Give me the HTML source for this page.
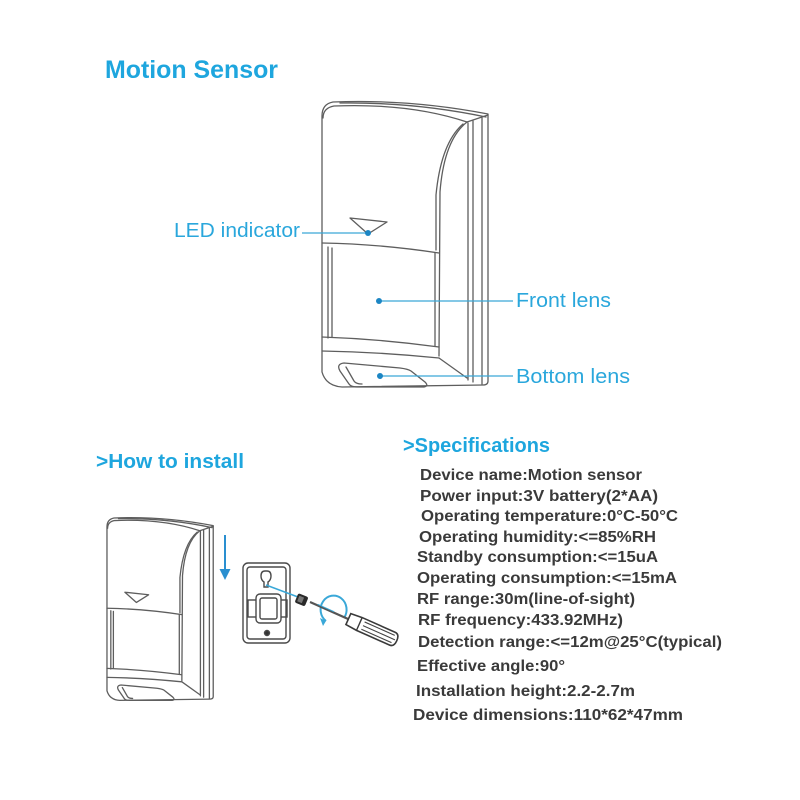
<!DOCTYPE html>
<html><head><meta charset="utf-8"><style>
html,body{margin:0;padding:0;background:#fff;}
svg{display:block;}
text{font-family:"Liberation Sans",sans-serif;}
</style></head><body>
<svg width="800" height="800" viewBox="0 0 800 800" xmlns="http://www.w3.org/2000/svg">
<defs>
<g id="dev" fill="none" stroke="#5e5e5e" stroke-width="1.3" stroke-linejoin="round" stroke-linecap="round">
  <path vector-effect="non-scaling-stroke" fill="#fff" d="M322,116 Q322,104 333,102 Q410,99 488,114 L488,381 Q488,385 483,385 L342,387 Q326,386 322,372 Z"/>
  <path vector-effect="non-scaling-stroke" d="M323,118 Q323,108 334,106 Q410,103 467,122"/>
  <path vector-effect="non-scaling-stroke" d="M340,103 Q415,102 486,117"/>
  <path vector-effect="non-scaling-stroke" d="M467,122 L488,115"/>
  <path vector-effect="non-scaling-stroke" d="M467,122 Q444,140 440,192 L439,356"/>
  <path vector-effect="non-scaling-stroke" d="M463,124 Q441,143 436,195 L436,250"/>
  <path vector-effect="non-scaling-stroke" d="M468,123 L468,380 M473,121 L473,382 M482,118 L482,384"/>
  <path vector-effect="non-scaling-stroke" d="M350,218 L387,222 L368,234 Z"/>
  <path vector-effect="non-scaling-stroke" d="M322,243 Q380,244 439,253"/>
  <path vector-effect="non-scaling-stroke" d="M328,247 L328,338 M332,248 L332,337 M435,253 L435,346"/>
  <path vector-effect="non-scaling-stroke" d="M322,337 Q380,339 439,347"/>
  <path vector-effect="non-scaling-stroke" d="M322,351 Q380,352 439,358"/>
  <path vector-effect="non-scaling-stroke" d="M439,358 L467,378"/>
  <path vector-effect="non-scaling-stroke" d="M344,363 Q336,364 340,371 L349,384 Q351,387 357,387 L424,387 Q429,386 425,382 L411,371 Q408,369 400,368 Z"/>
  <path vector-effect="non-scaling-stroke" d="M346,367 L354,381 Q356,384 362,384"/>
</g>
</defs>

<text x="105" y="78" font-size="25" font-weight="bold" fill="#1ea6de" textLength="173" lengthAdjust="spacingAndGlyphs">Motion Sensor</text>

<use href="#dev"/>

<g stroke="#3aa8d8" stroke-width="1.3">
  <line x1="302" y1="233" x2="368" y2="233"/>
  <line x1="379" y1="301" x2="513" y2="301"/>
  <line x1="380" y1="376" x2="513" y2="376"/>
</g>
<g fill="#1c86c4">
  <circle cx="368" cy="233" r="3"/>
  <circle cx="379" cy="301" r="3"/>
  <circle cx="380" cy="376" r="3"/>
</g>
<text x="174" y="237" font-size="20" fill="#2aa7dc" textLength="126" lengthAdjust="spacingAndGlyphs">LED indicator</text>
<text x="516" y="307" font-size="20" fill="#2aa7dc" textLength="95" lengthAdjust="spacingAndGlyphs">Front lens</text>
<text x="516" y="383" font-size="20" fill="#2aa7dc" textLength="114" lengthAdjust="spacingAndGlyphs">Bottom lens</text>

<text x="96" y="468" font-size="20" font-weight="bold" fill="#1ea6de" textLength="148" lengthAdjust="spacingAndGlyphs">&gt;How to install</text>

<use href="#dev" transform="translate(-99.1,452.7) scale(0.64)"/>

<line x1="225" y1="535" x2="225" y2="571" stroke="#2a8fd0" stroke-width="2"/>
<polygon points="219.5,569 230.5,569 225,580" fill="#2a8fd0"/>

<g fill="none" stroke="#4a4a4a" stroke-width="1.4">
  <rect x="243" y="563" width="47" height="80" rx="5" fill="#fff"/>
  <rect x="247" y="567" width="39" height="72" rx="3"/>
  <path d="M265,571 Q261,571 261,576 Q261,580 264,582 L264,587 L268,587 L268,582 Q271,580 271,576 Q271,571 267,571 Z"/>
  <rect x="248" y="600" width="39" height="17"/>
  <rect x="256" y="594" width="25" height="29" rx="4" fill="#fff"/>
  <rect x="260" y="598" width="17" height="21" rx="2"/>
  <circle cx="267" cy="633" r="2.5" fill="#333"/>
</g>

<line x1="266" y1="585" x2="298" y2="597" stroke="#3aa8d8" stroke-width="1.5"/>

<g transform="rotate(22 302 600)">
  <rect x="296" y="595" width="11" height="10" rx="2" fill="#2a2a2a"/>
  <rect x="298" y="597" width="5" height="6" fill="#777"/>
</g>

<path d="M326,621 A13,14 0 1 1 344,618" fill="none" stroke="#3aa8d8" stroke-width="2"/>

<g transform="rotate(24 310 602)">
  <line x1="310" y1="602" x2="352" y2="602" stroke="#555" stroke-width="2.2"/>
  <line x1="318" y1="601" x2="336" y2="601" stroke="#3aa8d8" stroke-width="1"/>
  <path d="M352,596 L364,595 L400,595 Q405,595 405,602 Q405,609 400,609 L364,609 L352,608 Z" fill="#fff" stroke="#3a3a3a" stroke-width="1.6"/>
  <path d="M368,598 L401,598 M368,602 L403,602 M368,606 L401,606" stroke="#444" stroke-width="1.1"/>
  <line x1="364" y1="595" x2="364" y2="609" stroke="#3a3a3a" stroke-width="1.4"/>
</g>
<path d="M326,621 L320,618 L323,626 Z" fill="#3aa8d8"/>

<text x="403" y="452" font-size="20" font-weight="bold" fill="#1ea6de" textLength="147" lengthAdjust="spacingAndGlyphs">&gt;Specifications</text>
<g font-size="16" font-weight="bold" fill="#3a3a3a">
  <text x="420" y="480" textLength="222" lengthAdjust="spacingAndGlyphs">Device name:Motion sensor</text>
  <text x="420" y="501" textLength="238" lengthAdjust="spacingAndGlyphs">Power input:3V battery(2*AA)</text>
  <text x="421" y="521" textLength="257" lengthAdjust="spacingAndGlyphs">Operating temperature:0°C-50°C</text>
  <text x="419" y="542" textLength="237" lengthAdjust="spacingAndGlyphs">Operating humidity:&lt;=85%RH</text>
  <text x="417" y="562" textLength="241" lengthAdjust="spacingAndGlyphs">Standby consumption:&lt;=15uA</text>
  <text x="417" y="583" textLength="260" lengthAdjust="spacingAndGlyphs">Operating consumption:&lt;=15mA</text>
  <text x="417" y="604" textLength="218" lengthAdjust="spacingAndGlyphs">RF range:30m(line-of-sight)</text>
  <text x="418" y="625" textLength="205" lengthAdjust="spacingAndGlyphs">RF frequency:433.92MHz)</text>
  <text x="418" y="647" textLength="304" lengthAdjust="spacingAndGlyphs">Detection range:&lt;=12m@25°C(typical)</text>
  <text x="417" y="671" textLength="148" lengthAdjust="spacingAndGlyphs">Effective angle:90°</text>
  <text x="416" y="696" textLength="219" lengthAdjust="spacingAndGlyphs">Installation height:2.2-2.7m</text>
  <text x="413" y="720" textLength="270" lengthAdjust="spacingAndGlyphs">Device dimensions:110*62*47mm</text>
</g>
</svg>
</body></html>
